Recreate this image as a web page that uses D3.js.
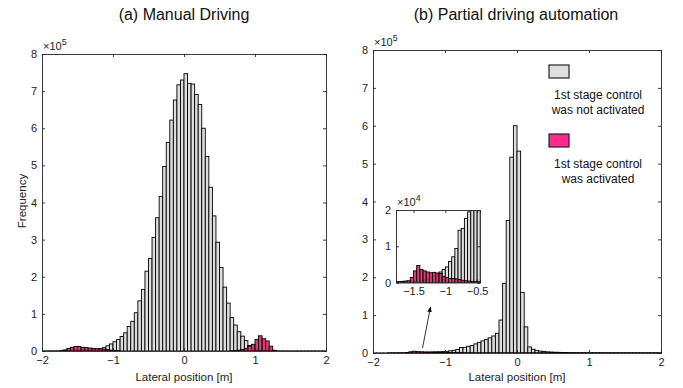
<!DOCTYPE html>
<html><head><meta charset="utf-8">
<script src="https://cdn.jsdelivr.net/npm/d3@7"></script>
<style>body{margin:0;background:#fff}svg{display:block;font-family:"Liberation Sans",Arial,sans-serif}</style>
</head><body><svg id="c" width="683" height="388"></svg>
<script>
// histogram bins: left edges from -2 to 1.95, width 0.05 (80 bins)
const binStart = -2, binWidth = 0.05, binCount = 80;
const xTicks = [-2, -1, 0, 1, 2];
const yTicks = [0, 1, 2, 3, 4, 5, 6, 7, 8];
const insetXTicks = [-1.5, -1, -0.5];
const insetYTicks = [0, 1, 2];

// (a) Manual driving, units of 1e5
const manualNotActivated = [
 0.004,0.004,0.005,0.005,0.006,0.007,0.010,0.020,0.030,0.030,
 0.030,0.035,0.040,0.040,0.045,0.050,0.060,0.090,0.140,0.190,
 0.250,0.310,0.390,0.490,0.660,0.800,1.030,1.350,1.660,2.150,
 2.490,3.060,3.590,4.160,4.970,5.620,6.220,6.760,7.170,7.300,
 7.470,7.210,7.190,6.910,6.640,6.000,5.240,4.410,3.640,2.930,
 2.250,1.720,1.290,0.900,0.700,0.520,0.400,0.280,0.150,0.070,
 0.040,0.025,0.015,0.010,0.008,0.006,0.004,0.004,0.004,0.004,
 0.004,0.004,0.004,0.004,0.004,0.004,0.004,0.004,0.004,0.004];
const manualActivated = [
 0,0,0,0,0,0.005,0.030,0.070,0.100,0.120,
 0.120,0.100,0.090,0.080,0.070,0.060,0.060,0.050,0.040,0.020,
 0.010,0.005,0,0,0,0,0,0,0,0,
 0,0,0,0,0,0,0,0,0,0,
 0,0,0,0,0,0,0,0,0,0,
 0,0,0,0.005,0.010,0.020,0.040,0.070,0.130,0.180,
 0.310,0.410,0.330,0.270,0.130,0.020,0,0,0,0,
 0,0,0,0,0,0,0,0,0,0];

// (b) Partial driving automation, units of 1e5
const partialNotActivated = [
 0.002,0.002,0.002,0.002,0.002,0.002,0.002,0.002,0.002,0.0025,
 0.003,0.004,0.005,0.007,0.010,0.015,0.020,0.025,0.029,0.036,
 0.043,0.058,0.071,0.094,0.144,0.149,0.177,0.195,0.240,0.280,
 0.320,0.360,0.400,0.450,0.520,0.870,1.840,3.500,5.170,6.000,
 5.330,1.600,0.690,0.160,0.100,0.070,0.050,0.040,0.030,0.025,
 0.020,0.018,0.015,0.012,0.010,0.008,0.008,0.007,0.007,0.006,
 0.006,0.005,0.005,0.005,0.004,0.004,0.004,0.004,0.003,0.003,
 0.003,0.003,0.003,0.003,0.003,0.003,0.003,0.003,0.003,0.003];
const partialActivated = [
 0,0,0,0,0.001,0.002,0.003,0.004,0.005,0.014,
 0.032,0.047,0.036,0.032,0.029,0.027,0.028,0.026,0.025,0.017,
 0.014,0.011,0.011,0.010,0.008,0.006,0.005,0.004,0.003,0.003,
 0.002,0.002,0.002,0.002,0.002,0.002,0.002,0.002,0.002,0.002,
 0.002,0.002,0.002,0.002,0.002,0.002,0.002,0.002,0.002,0.002,
 0.002,0.002,0.002,0.002,0.002,0.002,0.002,0.002,0.002,0.002,
 0.002,0.002,0.002,0.002,0.002,0.002,0.002,0.002,0.002,0.002,
 0.002,0.002,0.002,0.002,0.002,0.002,0.002,0.002,0.002,0.002];

const legendLabels = [["1st stage control", "was not activated"], ["1st stage control", "was activated"]];

const GREY = "#dedede", PINK = "#ff2a8c", BARPINK = "#d42a68", EDGE = "#000", AX = "#262626";
const svg = d3.select("#c");

function bins(vals) {
  return vals.map((v, i) => ({x0: binStart + i * binWidth, x1: binStart + (i + 1) * binWidth, v}));
}

function panel(opt) {
  const g = svg.append("g");
  const x = d3.scaleLinear().domain(opt.xd).range([opt.l, opt.r]);
  const y = d3.scaleLinear().domain(opt.yd).range([opt.b, opt.t]);
  const cid = "clip" + opt.id;
  svg.append("clipPath").attr("id", cid).append("rect")
    .attr("x", opt.l).attr("y", opt.t).attr("width", opt.r - opt.l).attr("height", opt.b - opt.t);
  if (opt.bg) g.append("rect").attr("x", opt.l).attr("y", opt.t).attr("width", opt.r - opt.l)
    .attr("height", opt.b - opt.t).attr("fill", "#fff");
  const bg = g.append("g").attr("clip-path", `url(#${cid})`);
  [[opt.grey, GREY, 1], [opt.pink, BARPINK, 0.9]].forEach(([vals, col, op]) => {
    bg.append("g").selectAll("rect").data(bins(vals).filter(d => d.v > 0)).join("rect")
      .attr("x", d => x(d.x0)).attr("width", d => x(d.x1) - x(d.x0))
      .attr("y", d => y(d.v * opt.k)).attr("height", d => Math.max(0, opt.b - y(d.v * opt.k)))
      .attr("fill", col).attr("fill-opacity", op).attr("stroke", EDGE).attr("stroke-width", 0.9);
  });
  const fs = opt.fs;
  const axB = d3.axisBottom(x).tickValues(opt.xt).tickSize(-3).tickPadding(5).tickFormat(d3.format("~g"));
  const axT = d3.axisTop(x).tickValues(opt.xt).tickSize(-3).tickFormat("");
  const axL = d3.axisLeft(y).tickValues(opt.yt).tickSize(-3).tickPadding(5).tickFormat(d3.format("~g"));
  const axR = d3.axisRight(y).tickValues(opt.yt).tickSize(-3).tickFormat("");
  const sty = s => { s.select(".domain").attr("stroke", AX).attr("stroke-width", 0.9);
    s.selectAll(".tick line").attr("stroke", AX).attr("stroke-width", 0.9);
    s.selectAll("text").attr("fill", "#222").attr("font-size", fs).attr("font-family", '"Liberation Sans",Arial,sans-serif'); };
  g.append("g").attr("transform", `translate(0,${opt.b})`).call(axB).call(sty);
  g.append("g").attr("transform", `translate(0,${opt.t})`).call(axT).call(sty);
  g.append("g").attr("transform", `translate(${opt.l},0)`).call(axL).call(sty);
  g.append("g").attr("transform", `translate(${opt.r},0)`).call(axR).call(sty);
  // exponent
  const ex = g.append("text").attr("x", opt.l + 1).attr("y", opt.t - 4).attr("font-size", fs).attr("fill", "#222");
  ex.append("tspan").text("\u00d710");
  ex.append("tspan").attr("dy", -5).attr("font-size", fs * 0.8).text(opt.exp);
  return {x, y, g};
}

const A = panel({id: "a", l: 42, r: 326, t: 54, b: 351, xd: [-2, 2], yd: [0, 8], k: 1,
  grey: manualNotActivated, pink: manualActivated, xt: xTicks, yt: yTicks, exp: "5", fs: 11});
const B = panel({id: "b", l: 373, r: 661, t: 50, b: 353, xd: [-2, 2], yd: [0, 8], k: 1,
  grey: partialNotActivated, pink: partialActivated, xt: xTicks, yt: yTicks, exp: "5", fs: 11});

// titles
svg.append("text").attr("x", 184).attr("y", 20).attr("text-anchor", "middle").attr("font-size", 16).attr("fill", "#111").text("(a) Manual Driving");
svg.append("text").attr("x", 516).attr("y", 20).attr("text-anchor", "middle").attr("font-size", 16).attr("fill", "#111").text("(b) Partial driving automation");
// axis labels
[[184], [517]].forEach(([cx]) => svg.append("text").attr("x", cx).attr("y", 381).attr("text-anchor", "middle")
  .attr("font-size", 11.5).attr("fill", "#222").text("Lateral position [m]"));
svg.append("text").attr("transform", "translate(26,201) rotate(-90)").attr("text-anchor", "middle")
  .attr("font-size", 11.5).attr("fill", "#222").text("Frequency");

// legend
const legY = [65, 134];
[GREY, PINK].forEach((c, i) => {
  svg.append("rect").attr("x", 549).attr("y", legY[i]).attr("width", 20).attr("height", 13)
    .attr("fill", c).attr("stroke", "#222").attr("stroke-width", 1.2);
  legendLabels[i].forEach((t, j) => svg.append("text").attr("x", 598).attr("y", legY[i] + 34 + j * 15)
    .attr("text-anchor", "middle").attr("font-size", 12).attr("fill", "#111").text(t));
});

// arrow
const defs = svg.append("defs");
defs.append("marker").attr("id", "ah").attr("viewBox", "0 0 10 10").attr("refX", 9).attr("refY", 5)
  .attr("markerWidth", 7).attr("markerHeight", 7).attr("orient", "auto")
  .append("path").attr("d", "M0,1 L10,5 L0,9 Z").attr("fill", "#000");
svg.append("line").attr("x1", 422.5).attr("y1", 348).attr("x2", 430.5).attr("y2", 307)
  .attr("stroke", "#000").attr("stroke-width", 0.8).attr("marker-end", "url(#ah)");

// inset
panel({id: "i", l: 396, r: 480, t: 210, b: 282.5, xd: [-1.775, -0.455], yd: [0, 2], k: 10, bg: true,
  grey: partialNotActivated, pink: partialActivated, xt: insetXTicks, yt: insetYTicks, exp: "4", fs: 11});
</script></body></html>
